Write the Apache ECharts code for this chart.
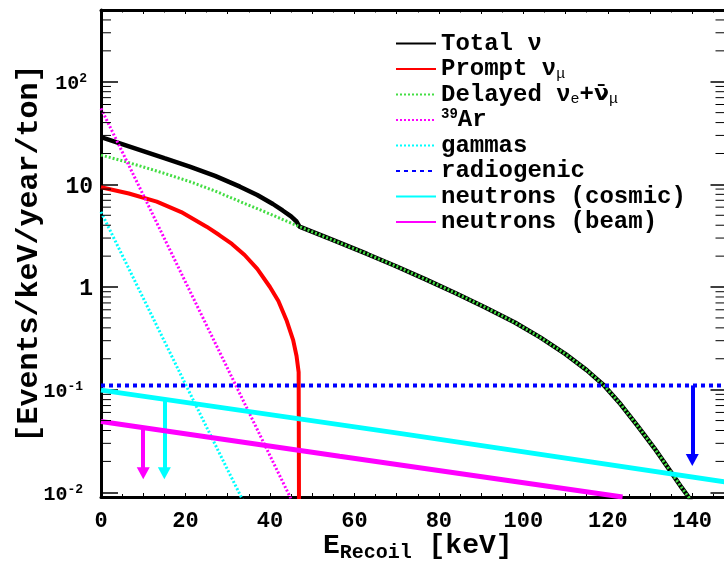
<!DOCTYPE html>
<html>
<head>
<meta charset="utf-8">
<script src="https://cdn.jsdelivr.net/npm/echarts@6/dist/echarts.min.js"></script>
<style>
  html, body { margin: 0; padding: 0; background: #fff; overflow: hidden; }
  #main { width: 724px; height: 570px; }
</style>
</head>
<body>
<div id="main"></div>
<script>
// values, [E_recoil keV, events/keV/year/ton]
var tailNu = [[47, 3.87], [55, 2.86], [63, 2.10], [70, 1.585], [77, 1.18], [84, 0.87], [91, 0.633],
  [98, 0.451], [104, 0.323], [110, 0.222], [115, 0.155], [119, 0.111], [123, 0.0724], [127, 0.0447],
  [131, 0.027], [134.5, 0.0168], [137.5, 0.0111], [139.2, 0.0089], [140.5, 0.0072]];
var totalNu = [[0, 28.8], [5, 24.65], [10, 21.1], [15, 18.0], [21, 14.9], [27, 12.1], [32.9, 9.5],
  [37, 7.88], [40.7, 6.44], [43, 5.57], [45, 4.87], [46.3, 4.35]].concat(tailNu);
var promptNuMu = [[0, 9.37], [6.6, 8.15], [13.2, 6.78], [19, 5.37], [25, 3.87], [28, 3.21], [31, 2.63],
  [34, 2.05], [37, 1.5], [40, 1.0], [42, 0.73], [44, 0.466], [45.5, 0.304], [46.3, 0.213],
  [46.8, 0.148], [47, 0.0001]];
var delayedNu = [[0, 19.3], [5, 17.0], [10, 14.8], [15, 12.8], [21, 10.65], [27, 8.62], [32.9, 6.81],
  [40, 5.15]].concat(tailNu);
var ar39 = [[0, 55], [10, 7.9], [20, 1.12], [30, 0.16], [40, 0.0228], [45, 0.0086]];
var gammas = [[0, 5.4], [10, 0.78], [20, 0.113], [30, 0.0165], [33.5, 0.0085]];
var radiogenic = [[0, 0.11], [150, 0.11]];
var neutronsCosmic = [[0, 0.099], [70.7, 0.0375], [148, 0.0126]];
var neutronsBeam = [[0, 0.049], [56.5, 0.0225], [123.5, 0.009]];

// upper-limit arrows: [x, start on line, arrow head centre]
var arrowBeam = [10, 0.043, 0.0153];
var arrowCosmic = [15, 0.080, 0.0153];
var arrowRadio = [140, 0.11, 0.0206];

var seriesNames = ['Total ν', 'Prompt νμ', 'Delayed νe+ν̄μ', '39Ar', 'gammas', 'radiogenic',
  'neutrons (cosmic)', 'neutrons (beam)'];
var legendText = ['Total ν', 'Prompt ν{sub|μ}', 'Delayed ν{sub|e}+{nb|ν\u0304}{sub|μ}', '{sup|39}Ar', 'gammas',
  'radiogenic', 'neutrons (cosmic)', 'neutrons (beam)'];

var xMin = 0, xMax = 150;
var yMin = 0.009, yMax = 500;
var yMinorTicks = [];
[0.01, 0.1, 1, 10, 100].forEach(function (d) {
  for (var k = 2; k <= 9; k++) {
    if (k * d < yMax) yMinorTicks.push(k * d);
  }
});

var MONO = 'Liberation Mono, Courier New, monospace';

function arrowLine(a, color) {
  return {
    silent: true,
    animation: false,
    symbol: ['none', 'triangle'],
    symbolSize: [13, 12],
    label: { show: false },
    lineStyle: { color: color, width: 4, type: 'solid' },
    emphasis: { disabled: true },
    data: [[{ coord: [a[0], a[1]] }, { coord: [a[0], a[2]] }]]
  };
}

function lineSeries(i, data, color, width, type, extra) {
  var s = {
    name: seriesNames[i],
    type: 'line',
    data: data,
    symbol: 'none',
    showSymbol: false,
    lineStyle: { color: color, width: width, type: type },
    itemStyle: { color: color },
    emphasis: { disabled: true },
    z: 2 + i
  };
  for (var k in extra) s[k] = extra[k];
  return s;
}

var chart = echarts.init(document.getElementById('main'));

var option = {
  animation: false,
  backgroundColor: '#fff',
  grid: { left: 101, top: 10, width: 633.5, height: 487, outerBoundsMode: 'none', containLabel: false },
  legend: {
    data: seriesNames,
    orient: 'vertical',
    left: 395,
    top: 31,
    padding: 0,
    itemWidth: 40,
    itemHeight: 14,
    itemGap: 0.5,
    selectedMode: false,
    itemStyle: { opacity: 0 },
    formatter: function (name) { return legendText[seriesNames.indexOf(name)]; },
    textStyle: {
      fontFamily: MONO, fontWeight: 'bold', fontSize: 24, lineHeight: 25, color: '#000',
      rich: {
        sub: { fontFamily: MONO, fontWeight: 'normal', fontSize: 15, lineHeight: 13, verticalAlign: 'bottom', color: '#000' },
        sup: { fontFamily: MONO, fontWeight: 'bold', fontSize: 14, lineHeight: 11, verticalAlign: 'top', color: '#000' },
        nb: { fontFamily: 'DejaVu Sans', fontWeight: 'bold', fontSize: 22, lineHeight: 25, color: '#000' }
      }
    }
  },
  xAxis: [{
    type: 'value',
    min: xMin, max: xMax, interval: 10,
    name: '{e|E}{r|Recoil} {e|[keV]}',
    nameLocation: 'middle',
    nameGap: 34,
    nameMoveOverlap: false,
    nameTextStyle: {
      fontFamily: MONO, fontWeight: 'bold', fontSize: 28, color: '#000',
      rich: {
        e: { fontFamily: MONO, fontWeight: 'bold', fontSize: 28, lineHeight: 30, color: '#000' },
        r: { fontFamily: MONO, fontWeight: 'bold', fontSize: 20, lineHeight: 20, padding: [14, 0, 0, 0], color: '#000' }
      }
    },
    axisLine: { show: true, onZero: false, lineStyle: { color: '#000', width: 3 } },
    axisTick: { show: true, inside: true, length: 4, lineStyle: { color: '#000', width: 1 } },
    minorTick: { show: true, splitNumber: 2, length: 3, lineStyle: { color: '#000', width: 1 } },
    splitLine: { show: false },
    minorSplitLine: { show: false },
    axisLabel: {
      margin: 13,
      fontFamily: MONO, fontWeight: 'bold', fontSize: 22, color: '#000',
      formatter: function (v) { return v % 20 === 0 ? String(v) : ''; },
      showMaxLabel: false
    }
  }, {
    type: 'value',
    position: 'top',
    min: xMin, max: xMax, interval: 10,
    axisLine: { show: true, onZero: false, lineStyle: { color: '#000', width: 3 } },
    axisTick: { show: true, inside: true, length: 4, lineStyle: { color: '#000', width: 1 } },
    minorTick: { show: true, splitNumber: 2, length: 2.5, lineStyle: { color: '#000', width: 1 } },
    splitLine: { show: false },
    axisLabel: { show: false }
  }],
  yAxis: [{
    type: 'log',
    logBase: 10,
    min: yMin, max: yMax,
    name: '[Events/keV/year/ton]',
    nameLocation: 'middle',
    nameRotate: 90,
    nameGap: 57,
    nameMoveOverlap: false,
    nameTextStyle: { fontFamily: MONO, fontWeight: 'bold', fontSize: 30, color: '#000' },
    axisLine: { show: true, onZero: false, lineStyle: { color: '#000', width: 3 } },
    axisTick: { show: true, inside: true, length: 17, lineStyle: { color: '#000', width: 1.5 } },
    splitLine: { show: false },
    axisLabel: {
      margin: 8,
      showMinLabel: false,
      showMaxLabel: false,
      padding: [5, 0, 0, 0],
      fontFamily: MONO, fontWeight: 'bold', fontSize: 22, color: '#000',
      formatter: function (v) {
        var e = Math.round(Math.log10(v));
        if (e === 0) return '{n|1}';
        if (e === 1) return '{n|10}';
        if (e > 0) return '{b|10}{sp|' + e + '}';
        return '{b|10}{sn|-' + (-e) + '}';
      },
      rich: {
        n: { fontFamily: MONO, fontWeight: 'bold', fontSize: 23, lineHeight: 24, color: '#000' },
        b: { fontFamily: MONO, fontWeight: 'bold', fontSize: 20, lineHeight: 24, color: '#000' },
        sp: { fontFamily: MONO, fontWeight: 'bold', fontSize: 13, lineHeight: 12, verticalAlign: 'top', color: '#000', padding: [0, 6, 0, 0] },
        sn: { fontFamily: MONO, fontWeight: 'bold', fontSize: 13, lineHeight: 12, verticalAlign: 'top', color: '#000', padding: [0, 10, 0, 0] }
      }
    }
  }, {
    type: 'log',
    logBase: 10,
    position: 'right',
    min: yMin, max: yMax,
    axisLine: { show: true, onZero: false, lineStyle: { color: '#000', width: 3 } },
    axisTick: { show: true, inside: true, length: 24, lineStyle: { color: '#000', width: 1.5 } },
    splitLine: { show: false },
    axisLabel: { show: false }
  }],
  series: [
    lineSeries(0, totalNu, '#000000', 4.5, 'solid'),
    lineSeries(1, promptNuMu, '#ff0000', 4, 'solid'),
    lineSeries(2, delayedNu, '#44dd44', 3, [2, 2]),
    lineSeries(3, ar39, '#ff00ff', 3, [2, 2]),
    lineSeries(4, gammas, '#00ffff', 3, [2, 2]),
    lineSeries(5, radiogenic, '#0000ff', 4, [4, 4], { markLine: arrowLine(arrowRadio, '#0000ff') }),
    lineSeries(6, neutronsCosmic, '#00ffff', 5, 'solid', { markLine: arrowLine(arrowCosmic, '#00ffff') }),
    lineSeries(7, neutronsBeam, '#ff00ff', 5, 'solid', { markLine: arrowLine(arrowBeam, '#ff00ff') }),
    {
      name: 'minorTicks',
      type: 'custom',
      silent: true,
      data: yMinorTicks.map(function (v) { return [xMin, v]; }),
      encode: { x: 0, y: 1 },
      z: 20,
      renderItem: function (params, api) {
        var v = api.value(1);
        var pl = api.coord([xMin, v]);
        var pr = api.coord([xMax, v]);
        return {
          type: 'group',
          children: [
            { type: 'line', shape: { x1: pl[0], y1: pl[1], x2: pl[0] + 10, y2: pl[1] }, style: { stroke: '#000', lineWidth: 1 } },
            { type: 'line', shape: { x1: pr[0] - 19, y1: pr[1], x2: pr[0], y2: pr[1] }, style: { stroke: '#000', lineWidth: 1 } }
          ]
        };
      }
    }
  ]
};

chart.setOption(option);
</script>
</body>
</html>
